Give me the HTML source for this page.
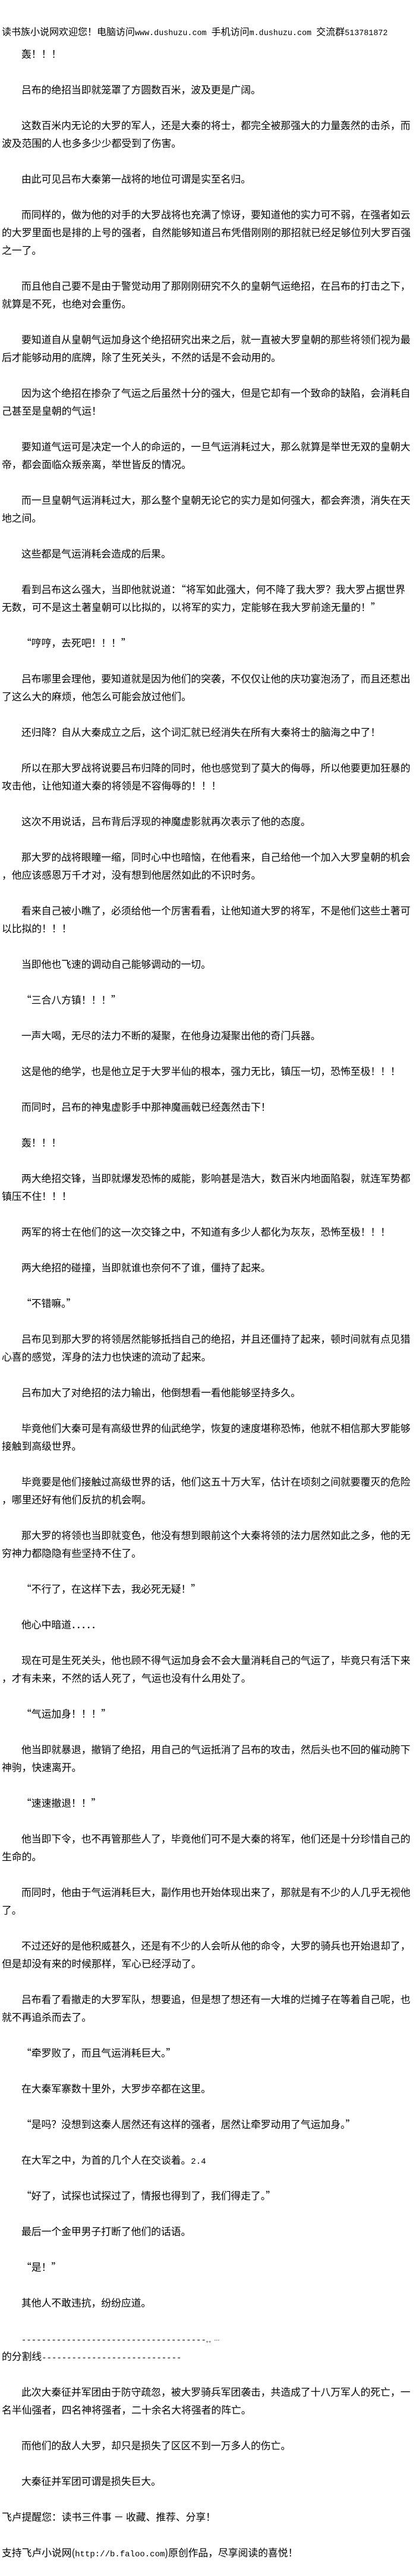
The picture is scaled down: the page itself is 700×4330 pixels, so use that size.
<!DOCTYPE html>
<html lang="zh-CN">
<head>
<meta charset="utf-8">
<style>
html,body{margin:0;padding:0;background:#fff;}
body{width:700px;height:4330px;position:relative;overflow:hidden;color:#000;
font-family:"Noto Sans CJK SC","WenQuanYi Zen Hei",sans-serif;font-size:16.8px;}
#hd{position:absolute;left:3px;top:37px;height:30px;line-height:30px;white-space:nowrap;font-size:16px;}
#hd .m{font-family:"Liberation Mono",monospace;font-size:13.4px;}
#c{position:absolute;left:3px;top:75px;width:676px;}
.l{height:30px;line-height:30px;white-space:nowrap;}
.j{text-align:justify;text-align-last:justify;}
.i{padding-left:33px;}
.b{height:30px;}
.m{font-family:"Liberation Mono",monospace;font-size:14px;}
</style>
</head>
<body>
<div id="hd">读书族小说网欢迎您！电脑访问<span class="m">www.dushuzu.com </span>手机访问<span class="m">m.dushuzu.com </span>交流群<span class="m">513781872</span></div>
<div id="c">
<div class="l i">轰！！！</div><div class="b"></div>
<div class="l i">吕布的绝招当即就笼罩了方圆数百米，波及更是广阔。</div><div class="b"></div>
<div class="l i j">这数百米内无论的大罗的军人，还是大秦的将士，都完全被那强大的力量轰然的击杀，而</div>
<div class="l">波及范围的人也多多少少都受到了伤害。</div><div class="b"></div>
<div class="l i">由此可见吕布大秦第一战将的地位可谓是实至名归。</div><div class="b"></div>
<div class="l i j">而同样的，做为他的对手的大罗战将也充满了惊讶，要知道他的实力可不弱，在强者如云</div>
<div class="l j">的大罗里面也是排的上号的强者，自然能够知道吕布凭借刚刚的那招就已经足够位列大罗百强</div>
<div class="l">之一了。</div><div class="b"></div>
<div class="l i j">而且他自己要不是由于警觉动用了那刚刚研究不久的皇朝气运绝招，在吕布的打击之下，</div>
<div class="l">就算是不死，也绝对会重伤。</div><div class="b"></div>
<div class="l i j">要知道自从皇朝气运加身这个绝招研究出来之后，就一直被大罗皇朝的那些将领们视为最</div>
<div class="l">后才能够动用的底牌，除了生死关头，不然的话是不会动用的。</div><div class="b"></div>
<div class="l i j">因为这个绝招在掺杂了气运之后虽然十分的强大，但是它却有一个致命的缺陷，会消耗自</div>
<div class="l">己甚至是皇朝的气运！</div><div class="b"></div>
<div class="l i j">要知道气运可是决定一个人的命运的，一旦气运消耗过大，那么就算是举世无双的皇朝大</div>
<div class="l">帝，都会面临众叛亲离，举世皆反的情况。</div><div class="b"></div>
<div class="l i j">而一旦皇朝气运消耗过大，那么整个皇朝无论它的实力是如何强大，都会奔溃，消失在天</div>
<div class="l">地之间。</div><div class="b"></div>
<div class="l i">这些都是气运消耗会造成的后果。</div><div class="b"></div>
<div class="l i j">看到吕布这么强大，当即他就说道：“将军如此强大，何不降了我大罗？我大罗占据世界</div>
<div class="l">无数，可不是这土著皇朝可以比拟的，以将军的实力，定能够在我大罗前途无量的！”</div><div class="b"></div>
<div class="l i">“哼哼，去死吧！！！”</div><div class="b"></div>
<div class="l i j">吕布哪里会理他，要知道就是因为他们的突袭，不仅仅让他的庆功宴泡汤了，而且还惹出</div>
<div class="l">了这么大的麻烦，他怎么可能会放过他们。</div><div class="b"></div>
<div class="l i">还归降？自从大秦成立之后，这个词汇就已经消失在所有大秦将士的脑海之中了！</div><div class="b"></div>
<div class="l i j">所以在那大罗战将说要吕布归降的同时，他也感觉到了莫大的侮辱，所以他要更加狂暴的</div>
<div class="l">攻击他，让他知道大秦的将领是不容侮辱的！！！</div><div class="b"></div>
<div class="l i">这次不用说话，吕布背后浮现的神魔虚影就再次表示了他的态度。</div><div class="b"></div>
<div class="l i j">那大罗的战将眼瞳一缩，同时心中也暗恼，在他看来，自己给他一个加入大罗皇朝的机会</div>
<div class="l">，他应该感恩万千才对，没有想到他居然如此的不识时务。</div><div class="b"></div>
<div class="l i j">看来自己被小瞧了，必须给他一个厉害看看，让他知道大罗的将军，不是他们这些土著可</div>
<div class="l">以比拟的！！！</div><div class="b"></div>
<div class="l i">当即他也飞速的调动自己能够调动的一切。</div><div class="b"></div>
<div class="l i">“三合八方镇！！！”</div><div class="b"></div>
<div class="l i">一声大喝，无尽的法力不断的凝聚，在他身边凝聚出他的奇门兵器。</div><div class="b"></div>
<div class="l i">这是他的绝学，也是他立足于大罗半仙的根本，强力无比，镇压一切，恐怖至极！！！</div><div class="b"></div>
<div class="l i">而同时，吕布的神鬼虚影手中那神魔画戟已经轰然击下！</div><div class="b"></div>
<div class="l i">轰！！！</div><div class="b"></div>
<div class="l i j">两大绝招交锋，当即就爆发恐怖的威能，影响甚是浩大，数百米内地面陷裂，就连军势都</div>
<div class="l">镇压不住！！！</div><div class="b"></div>
<div class="l i">两军的将士在他们的这一次交锋之中，不知道有多少人都化为灰灰，恐怖至极！！！</div><div class="b"></div>
<div class="l i">两大绝招的碰撞，当即就谁也奈何不了谁，僵持了起来。</div><div class="b"></div>
<div class="l i">“不错嘛。”</div><div class="b"></div>
<div class="l i j">吕布见到那大罗的将领居然能够抵挡自己的绝招，并且还僵持了起来，顿时间就有点见猎</div>
<div class="l">心喜的感觉，浑身的法力也快速的流动了起来。</div><div class="b"></div>
<div class="l i">吕布加大了对绝招的法力输出，他倒想看一看他能够坚持多久。</div><div class="b"></div>
<div class="l i j">毕竟他们大秦可是有高级世界的仙武绝学，恢复的速度堪称恐怖，他就不相信那大罗能够</div>
<div class="l">接触到高级世界。</div><div class="b"></div>
<div class="l i j">毕竟要是他们接触过高级世界的话，他们这五十万大军，估计在顷刻之间就要覆灭的危险</div>
<div class="l">，哪里还好有他们反抗的机会啊。</div><div class="b"></div>
<div class="l i j">那大罗的将领也当即就变色，他没有想到眼前这个大秦将领的法力居然如此之多，他的无</div>
<div class="l">穷神力都隐隐有些坚持不住了。</div><div class="b"></div>
<div class="l i">“不行了，在这样下去，我必死无疑！”</div><div class="b"></div>
<div class="l i">他心中暗道．．．．．</div><div class="b"></div>
<div class="l i j">现在可是生死关头，他也顾不得气运加身会不会大量消耗自己的气运了，毕竟只有活下来</div>
<div class="l">，才有未来，不然的话人死了，气运也没有什么用处了。</div><div class="b"></div>
<div class="l i">“气运加身！！！”</div><div class="b"></div>
<div class="l i j">他当即就暴退，撤销了绝招，用自己的气运抵消了吕布的攻击，然后头也不回的催动胯下</div>
<div class="l">神驹，快速离开。</div><div class="b"></div>
<div class="l i">“速速撤退！！”</div><div class="b"></div>
<div class="l i j">他当即下令，也不再管那些人了，毕竟他们可不是大秦的将军，他们还是十分珍惜自己的</div>
<div class="l">生命的。</div><div class="b"></div>
<div class="l i j">而同时，他由于气运消耗巨大，副作用也开始体现出来了，那就是有不少的人几乎无视他</div>
<div class="l">了。</div><div class="b"></div>
<div class="l i j">不过还好的是他积威甚久，还是有不少的人会听从他的命令，大罗的骑兵也开始退却了，</div>
<div class="l">但是却没有来的时候那样，军心已经浮动了。</div><div class="b"></div>
<div class="l i j">吕布看了看撤走的大罗军队，想要追，但是想了想还有一大堆的烂摊子在等着自己呢，也</div>
<div class="l">就不再追杀而去了。</div><div class="b"></div>
<div class="l i">“牵罗败了，而且气运消耗巨大。”</div><div class="b"></div>
<div class="l i">在大秦军寨数十里外，大罗步卒都在这里。</div><div class="b"></div>
<div class="l i">“是吗？没想到这秦人居然还有这样的强者，居然让牵罗动用了气运加身。”</div><div class="b"></div>
<div class="l i">在大军之中，为首的几个人在交谈着。<span class="m">2.4</span></div><div class="b"></div>
<div class="l i">“好了，试探也试探过了，情报也得到了，我们得走了。”</div><div class="b"></div>
<div class="l i">最后一个金甲男子打断了他们的话语。</div><div class="b"></div>
<div class="l i">“是！”</div><div class="b"></div>
<div class="l i">其他人不敢违抗，纷纷应道。</div><div class="b"></div>
<div class="l i"><span class="m">-------------------------------------</span><span style="font-size:9px">。。…</span></div>
<div class="l">的分割线<span class="m">----------------------------</span></div><div class="b"></div>
<div class="l i j">此次大秦征并军团由于防守疏忽，被大罗骑兵军团袭击，共造成了十八万军人的死亡，一</div>
<div class="l">名半仙强者，四名神将强者，二十余名大将强者的阵亡。</div><div class="b"></div>
<div class="l i">而他们的敌人大罗，却只是损失了区区不到一万多人的伤亡。</div><div class="b"></div>
<div class="l i">大秦征并军团可谓是损失巨大。</div><div class="b"></div>
<div class="l">飞卢提醒您：读书三件事 － 收藏、推荐、分享！</div><div class="b"></div>
<div class="l">支持飞卢小说网(<span class="m">http://b.faloo.com</span>)原创作品，尽享阅读的喜悦！</div>
</div>
</body>
</html>
